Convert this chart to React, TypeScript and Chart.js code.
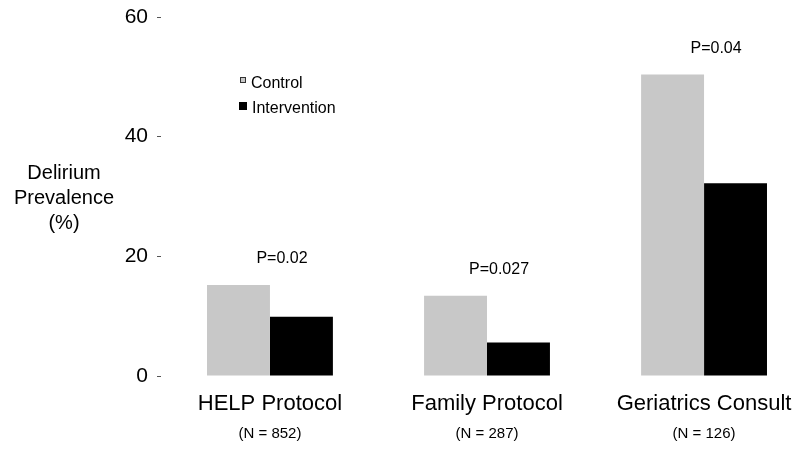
import React, { useEffect, useRef } from "react";
import { Chart, registerables } from "chart.js";

Chart.register(...registerables);

const categories = ["HELP Protocol", "Family Protocol", "Geriatrics Consult"];
const sampleSizes = ["(N = 852)", "(N = 287)", "(N = 126)"];
const pValues = ["P=0.02", "P=0.027", "P=0.04"];
const controlValues = [15.2, 13.4, 50.4];
const interventionValues = [9.9, 5.6, 32.2];
const seriesNames = ["Control", "Intervention"];
const yTicks = [0, 20, 40, 60];
const yTitleLines = ["Delirium", "Prevalence", "(%)"];

const FONT = "'Liberation Sans', Arial, Helvetica, sans-serif";
const GRAY = "#c8c8c8";
const BLACK = "#000000";

const overlayPlugin = {
  id: "overlay",
  afterDraw(chart: any) {
    const { ctx, chartArea, scales } = chart;
    const xs = scales.x;
    const ys = scales.y;
    ctx.save();
    ctx.fillStyle = "#000";
    ctx.font = `20px ${FONT}`;
    ctx.textAlign = "center";
    ctx.textBaseline = "middle";
    yTitleLines.forEach((line, i) => {
      ctx.fillText(line, 64, 173 + i * 25);
    });
    ctx.font = `16px ${FONT}`;
    categories.forEach((_, i) => {
      const top = Math.max(controlValues[i], interventionValues[i]);
      const px = xs.getPixelForValue(i) + 12;
      const py = ys.getPixelForValue(top) - 26;
      ctx.fillText(pValues[i], px, py);
    });
    const lx = chartArea.left + 78;
    ctx.font = `16px ${FONT}`;
    ctx.textAlign = "left";
    ctx.fillStyle = GRAY;
    ctx.fillRect(lx + 1, 77, 6, 6);
    ctx.strokeStyle = "#333";
    ctx.lineWidth = 1;
    ctx.strokeRect(lx + 1.5, 77.5, 5, 5);
    ctx.fillStyle = "#000";
    ctx.fillText(seriesNames[0], lx + 12, 84);
    ctx.fillStyle = BLACK;
    ctx.fillRect(lx, 102, 8, 8);
    ctx.fillStyle = "#000";
    ctx.fillText(seriesNames[1], lx + 13, 109);
    ctx.restore();
  },
};

export default function App() {
  const canvasRef = useRef<HTMLCanvasElement | null>(null);

  useEffect(() => {
    if (!canvasRef.current) return;
    const xFit = (h: number) => (scale: any) => {
      scale.height = h;
      scale.paddingLeft = 0;
      scale.paddingRight = 0;
    };
    const chart = new Chart(canvasRef.current, {
      type: "bar",
      data: {
        datasets: [
          {
            label: seriesNames[0],
            data: controlValues.map((v, i) => ({ x: i, y: v })),
            backgroundColor: GRAY,
            borderWidth: 0,
          },
          {
            label: seriesNames[1],
            data: interventionValues.map((v, i) => ({ x: i, y: v })),
            backgroundColor: BLACK,
            borderWidth: 0,
          },
        ],
      },
      options: {
        animation: false,
        responsive: false,
        maintainAspectRatio: false,
        layout: { padding: { top: 17, right: 10, bottom: 0, left: 0 } },
        datasets: {
          bar: { categoryPercentage: 0.58, barPercentage: 1 },
        },
        plugins: {
          legend: { display: false },
          tooltip: { enabled: false },
        },
        scales: {
          x: {
            type: "linear",
            position: "bottom",
            offset: false,
            min: -0.502,
            max: 2.396,
            grid: { display: false, drawTicks: false, offset: false },
            border: { display: false },
            afterBuildTicks: (scale: any) => {
              scale.ticks = categories.map((_, i) => ({ value: i }));
            },
            afterFit: xFit(43),
            ticks: {
              autoSkip: false,
              maxRotation: 0,
              padding: 15,
              color: "#000",
              font: { family: FONT, size: 22 },
              callback: (v: any) => categories[v] ?? "",
            },
          },
          x2: {
            type: "linear",
            position: "bottom",
            offset: false,
            min: -0.502,
            max: 2.396,
            grid: { display: false, drawTicks: false, offset: false },
            border: { display: false },
            afterBuildTicks: (scale: any) => {
              scale.ticks = sampleSizes.map((_, i) => ({ value: i }));
            },
            afterFit: xFit(31),
            ticks: {
              autoSkip: false,
              maxRotation: 0,
              padding: 6,
              color: "#000",
              font: { family: FONT, size: 15 },
              callback: (v: any) => sampleSizes[v] ?? "",
            },
          },
          y: {
            type: "linear",
            min: 0,
            max: 60,
            afterBuildTicks: (scale: any) => {
              scale.ticks = yTicks.map((v) => ({ value: v }));
            },
            afterFit: (scale: any) => {
              scale.width = 161;
              scale.paddingTop = 0;
              scale.paddingBottom = 0;
            },
            grid: {
              drawOnChartArea: false,
              drawTicks: true,
              tickLength: 4,
              color: "#555",
            },
            border: { display: false },
            ticks: {
              padding: 9,
              color: "#000",
              font: { family: FONT, size: 21 },
            },
          },
        },
      },
      plugins: [overlayPlugin],
    } as any);
    return () => chart.destroy();
  }, []);

  return (
    <div style={{ position: "fixed", left: 0, top: 0, width: 800, height: 450, background: "#fff" }}>
      <canvas ref={canvasRef} width={800} height={450} style={{ display: "block" }} />
    </div>
  );
}
